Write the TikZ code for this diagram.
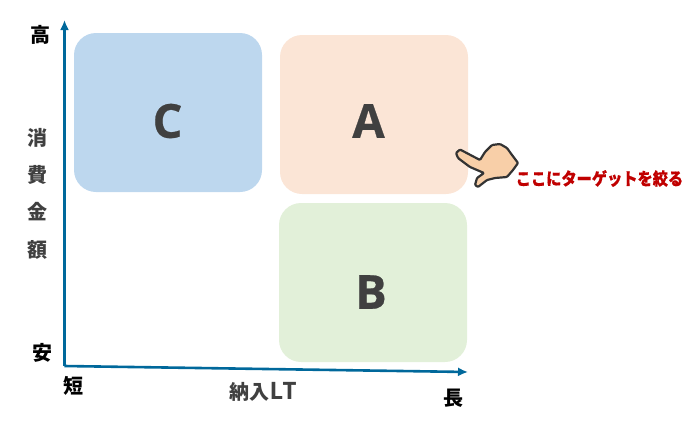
\documentclass[tikz,border=0pt]{standalone}
\usepackage{fontspec}
\usepackage{tikz}
\usetikzlibrary{arrows.meta}
\setmainfont{Noto Sans CJK JP}
\newfontfamily\latinfont{Open Sans}
\definecolor{boxblue}{HTML}{BDD7EE}
\definecolor{boxorange}{HTML}{FBE5D6}
\definecolor{boxgreen}{HTML}{E2F0D9}
\definecolor{axisblue}{HTML}{00689B}
\definecolor{labelgray}{HTML}{404040}
\definecolor{targetred}{HTML}{C00000}
\definecolor{handskin}{HTML}{F8CFA8}
\definecolor{handline}{HTML}{333333}
\tikzset{
  quadrant/.style={rounded corners=22pt,minimum width=188pt,minimum height=159pt,inner sep=0pt},
  quadlabel/.style={inner sep=0pt,text=labelgray,font=\fontsize{47}{47}\selectfont\latinfont\bfseries\addfontfeature{FakeBold=0.5}},
  axis/.style={draw=axisblue,line width=2.6pt,-{Latex[length=10pt,width=9pt]}},
  ticklabel/.style={inner sep=0pt,font=\fontsize{20}{20}\selectfont\bfseries},
  titlelabel/.style={inner sep=0pt,text=labelgray,font=\fontsize{20}{20}\selectfont\bfseries}
}
\begin{document}
\begin{tikzpicture}[x=1pt,y=-1pt]
    \useasboundingbox (0,0) rectangle (695,424);
    \node[quadrant,fill=boxblue] (c) at (168,112.5) {};
    \node[quadrant,fill=boxorange] (a) at (374,114.5) {};
    \node[quadrant,fill=boxgreen] (b) at (373,282.5) {};
    \node[quadlabel] (clabel) at (167.5,121) {C};
    \node[quadlabel] (alabel) at (368.5,121) {A};
    \node[quadlabel] (blabel) at (371,292) {B};
    \coordinate (origin) at (64.5,366);
    \coordinate (ytop) at (64.5,20);
    \coordinate (xend) at (468,372);
    \draw[axis] (origin) -- (ytop);
    \draw[axis] (origin) -- (xend);
    \node[ticklabel] (high) at (40,35) {高};
    \node[ticklabel] (low) at (42,353) {安};
    \node[ticklabel] (short) at (73.5,386) {短};
    \node[ticklabel] (long) at (453,398) {長};
    \node[titlelabel] (v1) at (37,138) {消};
    \node[titlelabel] (v2) at (37,175) {費};
    \node[titlelabel] (v3) at (37,212) {金};
    \node[titlelabel] (v4) at (37,250) {額};
    \node[titlelabel] (xtitle) at (263,392) {納入{\fontsize{24}{24}\selectfont\latinfont LT}};
    % pointing hand
    \draw[fill=handskin,draw=handline,line width=2.2pt,line join=round,rounded corners=1pt]
      (456,153) -- (460,149.5) -- (480,160) -- (485,152) -- (492,145) -- (500,144) -- (507,148)
      -- (512,155) -- (518,163) -- (513,170) -- (507,177) -- (495,178) -- (487,180) -- (478,187)
      -- (475,185) -- (477,178) -- (484,173) -- (470,167) -- (458,158) -- cycle;
    \node[inner sep=0pt,text=targetred,xscale=0.88,transform shape,font=\fontsize{17.3}{17.3}\selectfont\bfseries\addfontfeature{FakeBold=0.4}] (target) at (599.5,178.5) {ここにターゲットを絞る};
  \end{tikzpicture}
\end{document}
